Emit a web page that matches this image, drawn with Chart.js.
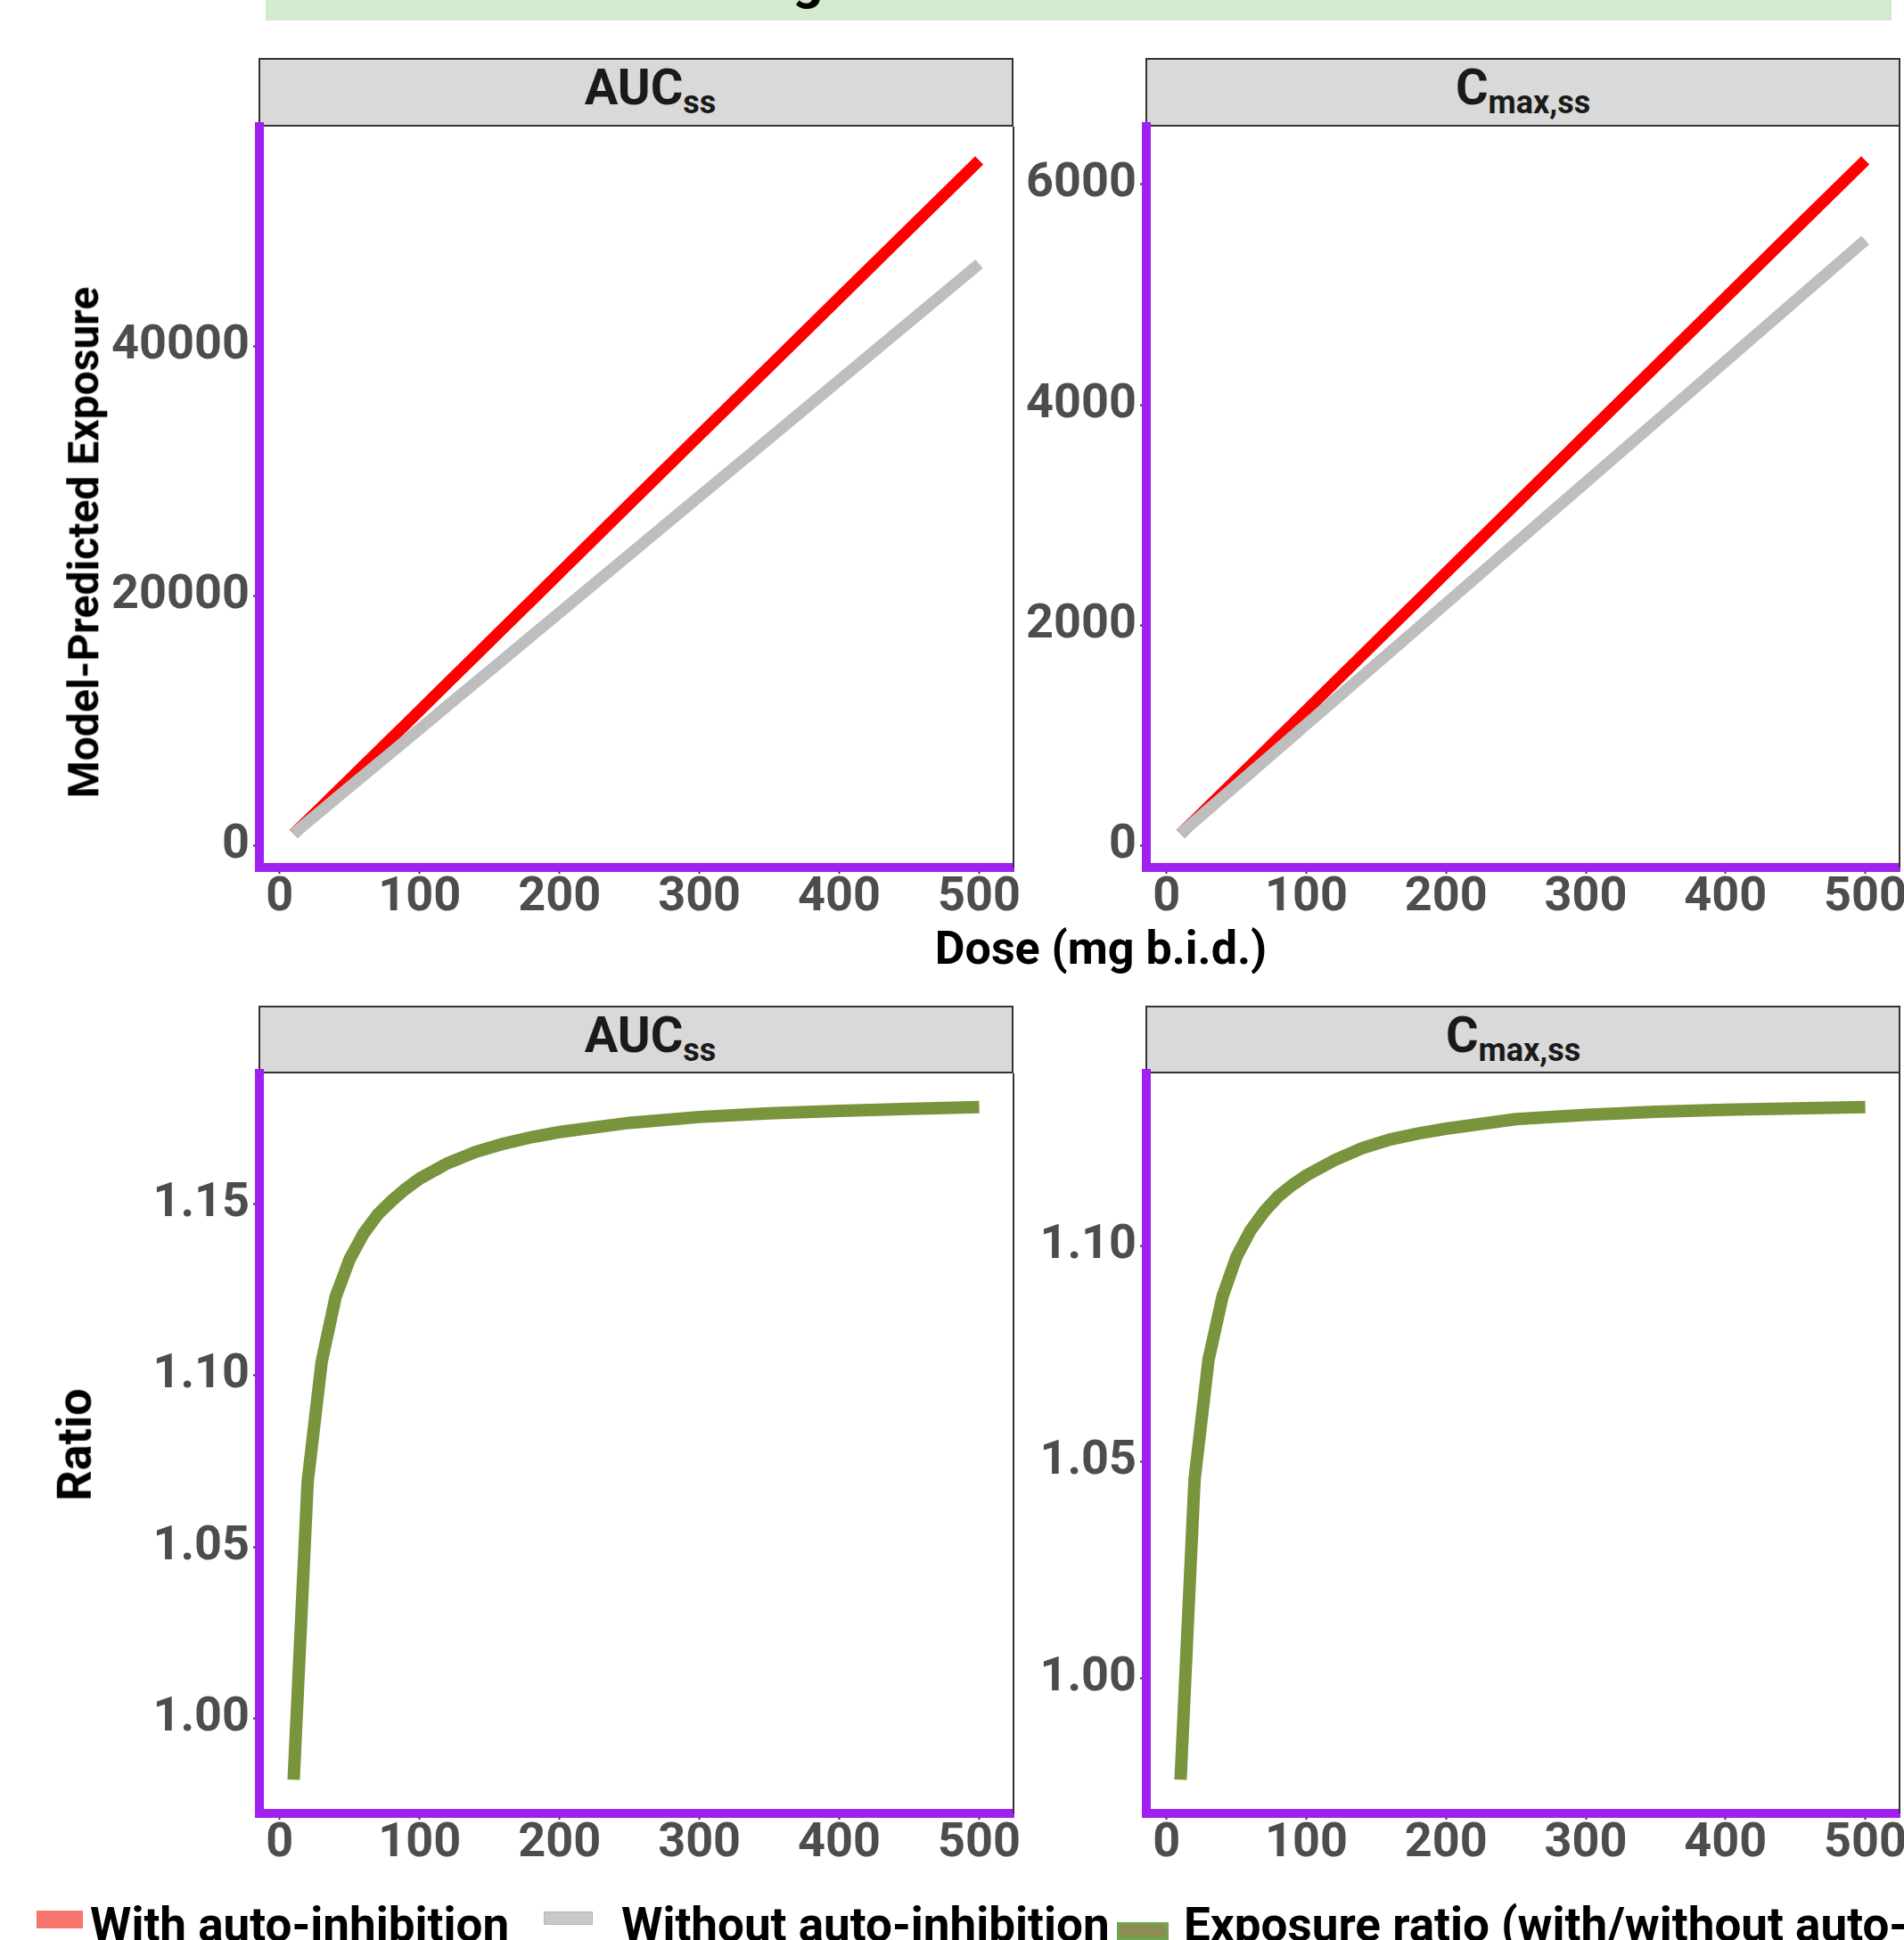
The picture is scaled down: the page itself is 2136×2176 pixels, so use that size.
<!DOCTYPE html>
<html>
<head>
<meta charset="utf-8">
<script src="https://cdn.jsdelivr.net/npm/chart.js@4.4.1/dist/chart.umd.min.js"></script>
<style>
  html, body { margin: 0; padding: 0; background: #fff; }
  body { width: 2136px; height: 2176px; position: relative; overflow: hidden; font-family: Roboto, sans-serif; }
  canvas { position: absolute; }
  .abs { position: absolute; white-space: nowrap; }
  .strip { position: absolute; box-sizing: border-box; background: #D9D9D9; border: 2px solid #333333;
           text-align: center; font-weight: bold; font-size: 56px; line-height: 62px; color: #1A1A1A; }
  .strip sub { font-size: 36px; vertical-align: -10px; line-height: 0; }
  .title { position: absolute; font-weight: bold; color: #000; white-space: nowrap; }
  .key { position: absolute; box-sizing: border-box; }
  .leg { position: absolute; font-weight: bold; font-size: 53px; line-height: 52px; color: #000; white-space: nowrap; }
</style>
</head>
<body>
<div class="abs" style="left:298px;top:0;width:1824px;height:23px;background:#D4EACF;"></div>
<div class="abs" style="left:889px;top:-52px;font-weight:bold;font-size:60px;line-height:60px;">g</div>

<div class="strip" style="left:290px;top:65px;width:847px;height:77px;padding-left:32px;">AUC<sub>ss</sub></div>
<div class="strip" style="left:1285px;top:65px;width:847px;height:77px;">C<sub>max,ss</sub></div>
<div class="strip" style="left:290px;top:1128px;width:847px;height:76px;padding-left:32px;">AUC<sub>ss</sub></div>
<div class="strip" style="left:1285px;top:1128px;width:847px;height:76px;padding-right:22px;">C<sub>max,ss</sub></div>

<canvas id="c1"></canvas>
<canvas id="c2"></canvas>
<canvas id="c3"></canvas>
<canvas id="c4"></canvas>

<div class="title" id="ytop" style="font-size:48px;">Model-Predicted Exposure</div>
<div class="title" id="ybot" style="font-size:54px;">Ratio</div>
<div class="title" id="xtitle" style="font-size:52px;">Dose (mg b.i.d.)</div>

<div class="key" style="left:41px;top:2143px;width:52px;height:20px;background:#F8766D;"></div>
<div class="leg" style="left:101px;top:2133px;">With auto-inhibition</div>
<div class="key" style="left:610px;top:2144px;width:55px;height:15px;background:#C8C8C8;border:1px solid #B5B5B5;"></div>
<div class="leg" style="left:697px;top:2133px;">Without auto-inhibition</div>
<div class="key" style="left:1253px;top:2156px;width:58px;height:20px;background:#8E8C55;border:3px solid #6BA84F;"></div>
<div class="leg" style="left:1328px;top:2133px;">Exposure ratio (with/without auto-inhibition)</div>

<script>
// dose (mg b.i.d.)
const doses = [10, 20, 30, 40, 50, 60, 70, 80, 90, 100, 120, 140, 160, 180, 200, 250, 300, 350, 400, 450, 500];
// AUCss
const aucWith = [915, 1994, 3088, 4189, 5287, 6386, 7486, 8585, 9689, 10793, 13002, 15212, 17420, 19629, 21839, 27361, 32881, 38397, 43909, 49422, 54937];
const aucWithout = [932, 1865, 2797, 3730, 4662, 5594, 6527, 7459, 8392, 9324, 11189, 13054, 14918, 16783, 18648, 23310, 27972, 32634, 37296, 41958, 46620];
// Cmax,ss
const cmaxWith = [107.3, 229.9, 354.0, 478.4, 603.0, 727.6, 852.3, 977.1, 1101.9, 1226.7, 1476.9, 1727.5, 1976.9, 2227.0, 2477.1, 3103.0, 3726.3, 4350.6, 4973.6, 5597.4, 6220.3];
const cmaxWithout = [109.9, 219.8, 329.7, 439.6, 549.5, 659.4, 769.3, 879.2, 989.1, 1099, 1319, 1539, 1758, 1978, 2198, 2748, 3297, 3847, 4396, 4946, 5495];
// exposure ratio (with / without)
const aucRatio = [0.982, 1.069, 1.104, 1.123, 1.134, 1.1415, 1.147, 1.151, 1.1545, 1.1575, 1.162, 1.1653, 1.1677, 1.1696, 1.1711, 1.1738, 1.1755, 1.1766, 1.1773, 1.1779, 1.1784];
const cmaxRatio = [0.9766, 1.0459, 1.0736, 1.0882, 1.0974, 1.1035, 1.1079, 1.1114, 1.1140, 1.1162, 1.1197, 1.1225, 1.1245, 1.1259, 1.1270, 1.1292, 1.1302, 1.1309, 1.1314, 1.1317, 1.1320];
// tick labels
const doseTicks = [0, 100, 200, 300, 400, 500];
const aucTicks = [0, 20000, 40000];
const cmaxTicks = [0, 2000, 4000, 6000];
const aucRatioTicks = [1.00, 1.05, 1.10, 1.15];
const cmaxRatioTicks = [1.00, 1.05, 1.10];

const RED = "#FF0000";
const GREY = "#BEBEBE";
const GREEN = "#78943C";
const PURPLE = "#A020F0";

// ggplot style 5% padding around the data
const expand = (vals) => {
  const lo = Math.min(...vals);
  const hi = Math.max(...vals);
  const pad = (hi - lo) * 0.05;
  return { min: lo - pad, max: hi + pad };
};

const pts = (ys) => doses.map((d, i) => ({ x: d, y: ys[i] }));

const tickFont = { family: "Roboto", size: 54, weight: "bold" };

const frame = {
  id: "frame",
  beforeDatasetsDraw(chart) {
    const { ctx, chartArea: a } = chart;
    ctx.save();
    ctx.strokeStyle = "#333333";
    ctx.lineWidth = 2;
    ctx.beginPath();
    ctx.moveTo(a.right, a.top);
    ctx.lineTo(a.right, a.bottom);
    ctx.stroke();
    ctx.restore();
  },
};

const axisBase = (ticks, fmt) => ({
  type: "linear",
  afterBuildTicks: (s) => {
    s.ticks = ticks.map((v) => ({ value: v }));
  },
  ticks: { font: tickFont, color: "#4D4D4D", padding: 4, callback: fmt, autoSkip: false, maxRotation: 0 },
  grid: { drawOnChartArea: false, drawTicks: true, tickLength: 7, tickColor: "#333333", tickWidth: 2 },
  border: { color: PURPLE, width: 10 },
});

function makePanel(id, left, top, right, bottom, datasets, yTicks, yFmt, yVals) {
  const el = document.getElementById(id);
  const w = right - left + 240;
  const h = bottom - top + 120;
  el.width = w;
  el.height = h;
  el.style.left = left - 200 + "px";
  el.style.top = top - 40 + "px";
  el.style.width = w + "px";
  el.style.height = h + "px";
  const xr = expand(doses);
  const yr = expand(yVals);
  const xAxis = axisBase(doseTicks, (v) => String(v));
  xAxis.min = xr.min;
  xAxis.max = xr.max;
  xAxis.afterFit = (s) => { s.height = 80; };
  xAxis.ticks.padding = -5;
  const yAxis = axisBase(yTicks, yFmt);
  yAxis.min = yr.min;
  yAxis.max = yr.max;
  yAxis.afterFit = (s) => { s.width = 200; };
  return new Chart(el, {
    type: "line",
    data: { datasets },
    options: {
      responsive: false,
      animation: false,
      devicePixelRatio: 1,
      layout: { padding: { top: 40, right: 40, bottom: 0, left: 0 } },
      plugins: { legend: { display: false }, tooltip: { enabled: false } },
      elements: { point: { radius: 0 }, line: { tension: 0 } },
      scales: { x: xAxis, y: yAxis },
    },
    plugins: [frame],
  });
}

const lineSet = (ys, color, width, order) => ({
  data: pts(ys),
  borderColor: color,
  borderWidth: width,
  pointRadius: 0,
  fill: false,
  order: order,
});

makePanel("c1", 291, 142, 1137, 973,
  [lineSet(aucWithout, GREY, 13, 0), lineSet(aucWith, RED, 13, 1)],
  aucTicks, (v) => String(v), aucWith.concat(aucWithout));
makePanel("c2", 1286, 142, 2131, 973,
  [lineSet(cmaxWithout, GREY, 13, 0), lineSet(cmaxWith, RED, 13, 1)],
  cmaxTicks, (v) => String(v), cmaxWith.concat(cmaxWithout));
makePanel("c3", 291, 1204, 1137, 2034,
  [lineSet(aucRatio, GREEN, 14, 0)],
  aucRatioTicks, (v) => v.toFixed(2), aucRatio);
makePanel("c4", 1286, 1204, 2131, 2034,
  [lineSet(cmaxRatio, GREEN, 14, 0)],
  cmaxRatioTicks, (v) => v.toFixed(2), cmaxRatio);

// place axis titles by their centres
const centre = (id, cx, cy, rotate) => {
  const t = document.getElementById(id);
  const r = t.getBoundingClientRect();
  t.style.left = cx - r.width / 2 + "px";
  t.style.top = cy - r.height / 2 + "px";
  if (rotate) t.style.transform = "rotate(-90deg)";
};
centre("ytop", 94, 608, true);
centre("ybot", 83, 1620, true);
centre("xtitle", 1235, 1063, false);
</script>
</body>
</html>
